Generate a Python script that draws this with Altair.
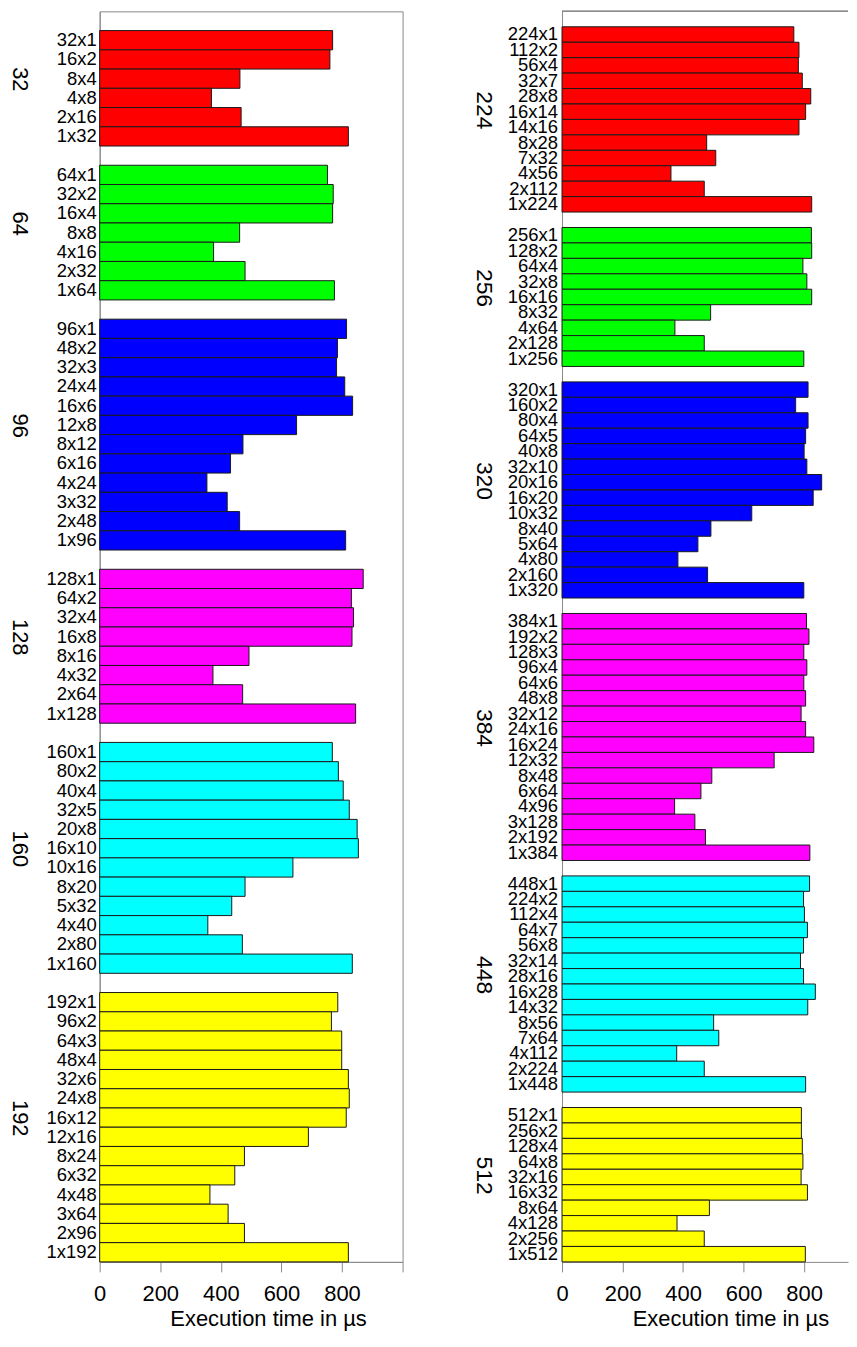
import altair as alt
import pandas as pd

# ---------------- data ----------------
palette = ["#FF0000", "#00FF00", "#0000FF", "#FF00FF", "#00FFFF", "#FFFF00"]

left_groups = ["32", "64", "96", "128", "160", "192"]
right_groups = ["224", "256", "320", "384", "448", "512"]

lab_32 = ["32x1", "16x2", "8x4", "4x8", "2x16", "1x32"]
val_32 = [769, 760, 463, 369, 467, 821]

lab_64 = ["64x1", "32x2", "16x4", "8x8", "4x16", "2x32", "1x64"]
val_64 = [752, 771, 769, 462, 376, 480, 775]

lab_96 = ["96x1", "48x2", "32x3", "24x4", "16x6", "12x8", "8x12", "6x16", "4x24", "3x32", "2x48", "1x96"]
val_96 = [815, 785, 782, 809, 835, 650, 473, 432, 354, 421, 462, 812]

lab_128 = ["128x1", "64x2", "32x4", "16x8", "8x16", "4x32", "2x64", "1x128"]
val_128 = [870, 831, 838, 833, 493, 374, 472, 845]

lab_160 = ["160x1", "80x2", "40x4", "32x5", "20x8", "16x10", "10x16", "8x20", "5x32", "4x40", "2x80", "1x160"]
val_160 = [768, 788, 804, 824, 850, 854, 638, 480, 436, 357, 471, 834]

lab_192 = ["192x1", "96x2", "64x3", "48x4", "32x6", "24x8", "16x12", "12x16", "8x24", "6x32", "4x48", "3x64", "2x96", "1x192"]
val_192 = [786, 765, 799, 799, 821, 824, 814, 689, 478, 446, 364, 424, 478, 821]

lab_224 = ["224x1", "112x2", "56x4", "32x7", "28x8", "16x14", "14x16", "8x28", "7x32", "4x56", "2x112", "1x224"]
val_224 = [766, 783, 781, 794, 822, 805, 783, 478, 508, 360, 470, 825]

lab_256 = ["256x1", "128x2", "64x4", "32x8", "16x16", "8x32", "4x64", "2x128", "1x256"]
val_256 = [824, 825, 796, 809, 825, 491, 373, 470, 799]

lab_320 = ["320x1", "160x2", "80x4", "64x5", "40x8", "32x10", "20x16", "16x20", "10x32", "8x40", "5x64", "4x80", "2x160", "1x320"]
val_320 = [813, 772, 813, 805, 800, 809, 858, 830, 627, 492, 449, 383, 481, 799]

lab_384 = ["384x1", "192x2", "128x3", "96x4", "64x6", "48x8", "32x12", "24x16", "16x24", "12x32", "8x48", "6x64", "4x96", "3x128", "2x192", "1x384"]
val_384 = [808, 816, 799, 809, 799, 805, 790, 805, 832, 701, 495, 459, 372, 439, 474, 819]

lab_448 = ["448x1", "224x2", "112x4", "64x7", "56x8", "32x14", "28x16", "16x28", "14x32", "8x56", "7x64", "4x112", "2x224", "1x448"]
val_448 = [818, 798, 801, 811, 798, 788, 798, 837, 812, 501, 518, 379, 470, 805]

lab_512 = ["512x1", "256x2", "128x4", "64x8", "32x16", "16x32", "8x64", "4x128", "2x256", "1x512"]
val_512 = [791, 791, 794, 796, 790, 811, 487, 380, 470, 804]

left_ticks = [0, 200, 400, 600, 800, 1000]
right_ticks = [0, 200, 400, 600, 800]
x_title = "Execution time in µs"

left_labels = [lab_32, lab_64, lab_96, lab_128, lab_160, lab_192]
left_values = [val_32, val_64, val_96, val_128, val_160, val_192]
right_labels = [lab_224, lab_256, lab_320, lab_384, lab_448, lab_512]
right_values = [val_224, val_256, val_320, val_384, val_448, val_512]

FONT = "Liberation Sans"
GRAY = "#8a8a8a"
PLOT_H = 1255


def build_tables(groups, labels, values):
    rows, mids = [], []
    slot = 1  # one empty slot on top
    for g, labs, vals in zip(groups, labels, values):
        start = slot
        for lab, v in zip(labs, vals):
            rows.append({"group": g, "label": lab, "time": v,
                         "y0": slot, "y1": slot + 1, "ym": slot + 0.5})
            slot += 1
        mids.append({"group": g, "ym": (start + slot) / 2})
        slot += 1  # one empty slot between groups
    total = slot - 1
    return pd.DataFrame(rows), pd.DataFrame(mids), total


def panel(groups, labels, values, ticks, xmax, width, lab_dx, grp_x, grp_size, frame):
    bars_df, mids_df, total = build_tables(groups, labels, values)
    yscale = alt.Scale(domain=[0, total], reverse=True, nice=False, zero=False)
    xscale = alt.Scale(domain=[0, xmax], nice=False)
    color = alt.Color("group:N", scale=alt.Scale(domain=groups, range=palette), legend=None)

    bars = alt.Chart(bars_df).mark_bar(stroke="#1a1a1a", strokeWidth=1).encode(
        x=alt.X("time:Q", scale=xscale,
                axis=alt.Axis(values=ticks, grid=False, tickSize=10,
                              tickColor=GRAY, domainColor=GRAY,
                              labelExpr="datum.value >= 1000 ? '' : datum.label",
                              labelFontSize=22, labelFont=FONT, labelColor="black",
                              labelBaseline="alphabetic", labelPadding=29,
                              labelFlush=False,
                              title=x_title, titleFontSize=22, titleFont=FONT,
                              titleFontWeight="normal", titleColor="black",
                              titleX=169, titleY=64, titleAlign="center",
                              titleBaseline="alphabetic")),
        x2=alt.datum(0),
        y=alt.Y("y0:Q", scale=yscale,
                axis=alt.Axis(labels=False, ticks=False, grid=False, title=None,
                              domainColor=GRAY)),
        y2="y1:Q",
        color=color,
    )

    bar_text = alt.Chart(bars_df).mark_text(
        align="right", baseline="middle", fontSize=18.5, font=FONT, color="black"
    ).encode(
        x=alt.value(lab_dx),
        y=alt.Y("ym:Q", scale=yscale),
        text="label:N",
    )

    grp_text = alt.Chart(mids_df).mark_text(
        align="center", baseline="middle", angle=90, fontSize=grp_size,
        font=FONT, color="black", dx=-9
    ).encode(
        x=alt.value(grp_x),
        y=alt.Y("ym:Q", scale=yscale),
        text="group:N",
    )

    layers = [bars, bar_text, grp_text]
    if frame:
        view = alt.ViewBackground(stroke=GRAY, strokeWidth=1)
    else:
        view = alt.ViewBackground(stroke=None)
        top = alt.Chart(mids_df).mark_rule(color=GRAY, strokeWidth=1).encode(
            x=alt.value(0), x2=alt.value(width), y=alt.value(0)
        )
        layers.append(top)
    return alt.layer(*layers).properties(width=width, height=PLOT_H, view=view)


left = panel(left_groups, left_labels, left_values, left_ticks, 1000, 304, -3, -80, 22, True)
right = panel(right_groups, right_labels, right_values, right_ticks, 945, 287, -4, -78, 23, False)

chart = alt.hconcat(left, right, spacing=69).resolve_scale(
    x="independent", y="independent", color="independent"
).properties(
    padding={"left": 0, "top": 0, "right": 0, "bottom": 0}
).configure(font=FONT)

chart.save("out.html", embed_options={"renderer": "svg", "actions": False})
